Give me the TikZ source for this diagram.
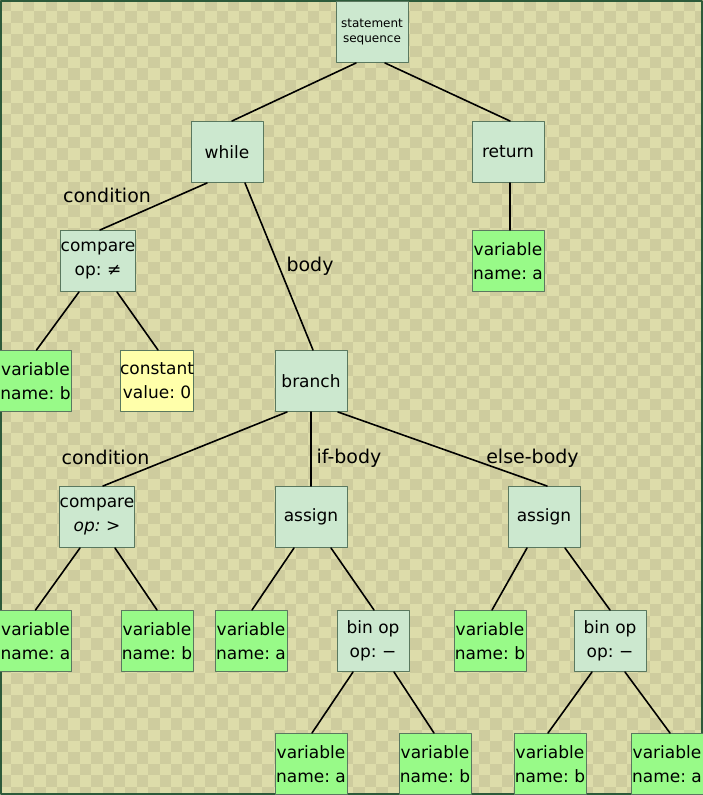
\documentclass[tikz,border=0pt]{standalone}
\usepackage{fontspec}
\setmainfont{DejaVu Sans}
\frenchspacing
\definecolor{chklight}{RGB}{221,220,170}
\definecolor{chkdark}{RGB}{206,204,158}
\definecolor{frameline}{RGB}{45,90,58}
\definecolor{opfill}{RGB}{204,232,207}
\definecolor{varfill}{RGB}{152,250,136}
\definecolor{constfill}{RGB}{255,255,170}
\definecolor{boxline}{RGB}{90,120,95}
\tikzset{
	box/.style={draw=boxline,line width=1pt,minimum width=72pt,minimum height=61pt,inner sep=0pt,align=center,font=\fontsize{17}{24}\selectfont},
	opbox/.style={box,fill=opfill},
	varbox/.style={box,fill=varfill},
	constbox/.style={box,fill=constfill},
	edge/.style={line width=1.6pt},
	lbl/.style={anchor=base,font=\fontsize{19}{23}\selectfont}
}
\begin{document}
\begin{tikzpicture}[x=1pt,y=-1pt,line join=round,line cap=round]
				\def \picw{703};
				\def \pich{795};
				\def \cell{11.4};
				\useasboundingbox (0,0) rectangle (\picw,\pich);
				% background
				\begin{scope}
					\clip (0,0) rectangle (\picw,\pich);
					\fill[chklight] (0,0) rectangle (\picw,\pich);
					\foreach \j in {0,...,69} {
						\pgfmathsetmacro\off{mod(\j,2)*\cell}
						\foreach \i in {0,...,30}
							\fill[chkdark] (2*\i*\cell+\off,\j*\cell) rectangle +(\cell,\cell);
					}
				\end{scope}
				\draw[frameline,line width=2pt] (1,1) rectangle (\picw-1,\pich-1);
				% nodes
				\node[opbox,font=\fontsize{12}{15}\selectfont] (stmt) at (372,32) {statement\\sequence};
				\node[opbox] (while) at (227,152) {while};
				\node[opbox] (ret) at (508,152) {return};
				\node[varbox] (retvar) at (508,261) {variable\\name: a};
				\node[opbox] (cmpne) at (98,261) {compare\\op: ≠};
				\node[varbox] (varb1) at (35.5,381) {variable\\name: b};
				\node[constbox] (const) at (157,381) {constant\\value: 0};
				\node[opbox] (branch) at (311,381) {branch};
				\node[opbox] (cmpgt) at (97,517) {compare\\\textit{op: >}};
				\node[opbox] (asgif) at (311,517) {assign};
				\node[opbox] (asgelse) at (544,517) {assign};
				\node[varbox] (vara2) at (35.5,641) {variable\\name: a};
				\node[varbox] (varb2) at (157,641) {variable\\name: b};
				\node[varbox] (vara3) at (251,641) {variable\\name: a};
				\node[opbox] (binif) at (373,641) {bin op\\op: −};
				\node[varbox] (varb3) at (490,641) {variable\\name: b};
				\node[opbox] (binelse) at (610,641) {bin op\\op: −};
				\node[varbox] (vara4) at (311,764) {variable\\name: a};
				\node[varbox] (varb4) at (435,764) {variable\\name: b};
				\node[varbox] (varb5) at (550,764) {variable\\name: b};
				\node[varbox] (vara5) at (667,764) {variable\\name: a};
				% edges
				\draw[edge] ([xshift=-16pt]stmt.south) -- ([xshift=5pt]while.north);
				\draw[edge] ([xshift=13pt]stmt.south) -- ([xshift=2pt]ret.north);
				\draw[edge] ([xshift=-20pt]while.south) -- ([xshift=2pt]cmpne.north);
				\draw[edge] ([xshift=18pt]while.south) -- ([xshift=2pt]branch.north);
				\draw[edge] ([xshift=2pt]ret.south) -- ([xshift=2pt]retvar.north);
				\draw[edge] ([xshift=-19pt]cmpne.south) -- ([xshift=1pt]varb1.north);
				\draw[edge] ([xshift=19pt]cmpne.south) -- ([xshift=1pt]const.north);
				\draw[edge] ([xshift=-24pt]branch.south) -- ([xshift=6pt]cmpgt.north);
				\draw[edge] (branch.south) -- (asgif.north);
				\draw[edge] ([xshift=27pt]branch.south) -- ([xshift=3pt]asgelse.north);
				\draw[edge] ([xshift=-17pt]cmpgt.south) -- (vara2.north);
				\draw[edge] ([xshift=18pt]cmpgt.south) -- (varb2.north);
				\draw[edge] ([xshift=-17pt]asgif.south) -- ([xshift=1pt]vara3.north);
				\draw[edge] ([xshift=20pt]asgif.south) -- ([xshift=1pt]binif.north);
				\draw[edge] ([xshift=-17pt]asgelse.south) -- ([xshift=2pt]varb3.north);
				\draw[edge] ([xshift=21pt]asgelse.south) -- (binelse.north);
				\draw[edge] ([xshift=-20pt]binif.south) -- ([xshift=1pt]vara4.north);
				\draw[edge] ([xshift=21pt]binif.south) -- ([xshift=-1pt]varb4.north);
				\draw[edge] ([xshift=-18pt]binelse.south) -- ([xshift=-2pt]varb5.north);
				\draw[edge] ([xshift=15pt]binelse.south) -- ([xshift=3pt]vara5.north);
				% labels
				\node[lbl] (lcond) at (107,202.7) {condition};
				\node[lbl] (lbody) at (310,271.7) {body};
				\node[lbl] (lcondb) at (105.5,464) {condition};
				\node[lbl] (lif) at (349,463) {if-body};
				\node[lbl] (lelse) at (532.5,463) {else-body};
			\end{tikzpicture}
\end{document}
